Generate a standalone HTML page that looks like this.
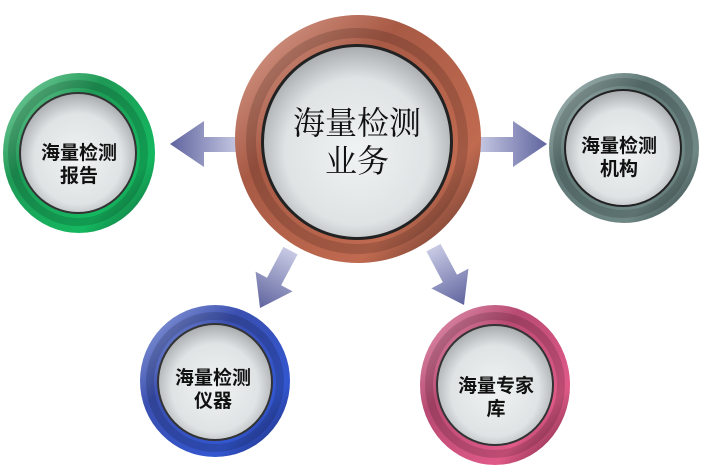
<!DOCTYPE html>
<html><head><meta charset="utf-8"><style>
html,body{margin:0;padding:0;background:#fff;width:702px;height:469px;overflow:hidden}
</style></head><body>
<svg width="702" height="469" viewBox="0 0 702 469" xmlns="http://www.w3.org/2000/svg">
<defs>
<radialGradient id="face" cx="0.5" cy="0.55" r="0.55">
<stop offset="0" stop-color="#f0f3f3"/><stop offset="0.7" stop-color="#dfe3e4"/><stop offset="1" stop-color="#a9adb0"/></radialGradient>
<linearGradient id="gC" x1="0" y1="0" x2="1" y2="1"><stop offset="0" stop-color="#e0a898"/><stop offset="0.35" stop-color="#a85a45"/><stop offset="0.75" stop-color="#c06a50"/><stop offset="1" stop-color="#4a2a22"/></linearGradient>
<linearGradient id="gG" x1="0" y1="0" x2="1" y2="1"><stop offset="0" stop-color="#8ed8ae"/><stop offset="0.35" stop-color="#1e9a56"/><stop offset="0.75" stop-color="#14b860"/><stop offset="1" stop-color="#145a34"/></linearGradient>
<linearGradient id="gS" x1="0" y1="0" x2="1" y2="1"><stop offset="0" stop-color="#b5c7c5"/><stop offset="0.35" stop-color="#5f7876"/><stop offset="0.75" stop-color="#6f8886"/><stop offset="1" stop-color="#2f3d3c"/></linearGradient>
<linearGradient id="gB" x1="0" y1="0" x2="1" y2="1"><stop offset="0" stop-color="#9aaae0"/><stop offset="0.35" stop-color="#3a4fb0"/><stop offset="0.75" stop-color="#3357d0"/><stop offset="1" stop-color="#1a2360"/></linearGradient>
<linearGradient id="gP" x1="0" y1="0" x2="1" y2="1"><stop offset="0" stop-color="#e8a0b8"/><stop offset="0.35" stop-color="#b84a72"/><stop offset="0.75" stop-color="#e05a88"/><stop offset="1" stop-color="#5a1a30"/></linearGradient>
<linearGradient id="ar" x1="0" y1="0" x2="1" y2="0"><stop offset="0" stop-color="#5f649e"/><stop offset="1" stop-color="#c8cae4"/></linearGradient>
</defs>
<polygon points="170,144 204,121 204,137 240,137 240,152 204,152 204,167" fill="url(#ar)"/>
<g transform="translate(547,144) scale(-1,1)"><polygon points="0,0 34,-23 34,-7 70,-7 70,8 34,8 34,23" fill="url(#ar)"/></g>
<g transform="translate(260,308) rotate(-62)"><polygon points="0,0 30,-21 30,-8 65,-8 65,8 30,8 30,21" fill="url(#ar)"/></g>
<g transform="translate(464,305) rotate(-118)"><polygon points="0,0 30,-21 30,-8 65,-8 65,8 30,8 30,21" fill="url(#ar)"/></g>
<g fill="none" stroke="#000" stroke-opacity="0.18">
</g>
<ellipse cx="358" cy="139" rx="123" ry="124" fill="url(#gC)"/>
<ellipse cx="357" cy="141" rx="106" ry="108" fill="none" stroke="#000" stroke-opacity="0.15" stroke-width="10"/>
<ellipse cx="357" cy="142" rx="96" ry="98" fill="#222"/>
<ellipse cx="357" cy="142" rx="93" ry="95" fill="url(#face)"/>
<ellipse cx="79" cy="153" rx="76" ry="80" fill="url(#gG)"/>
<ellipse cx="78" cy="153" rx="66" ry="69" fill="none" stroke="#000" stroke-opacity="0.15" stroke-width="8"/>
<ellipse cx="78" cy="153" rx="59" ry="61" fill="#333"/>
<ellipse cx="78" cy="153" rx="57" ry="59" fill="url(#face)"/>
<ellipse cx="624" cy="148" rx="75" ry="75" fill="url(#gS)"/>
<ellipse cx="623" cy="148" rx="66" ry="66" fill="none" stroke="#000" stroke-opacity="0.15" stroke-width="8"/>
<ellipse cx="623" cy="148" rx="59" ry="59" fill="#222"/>
<ellipse cx="623" cy="148" rx="57" ry="57" fill="url(#face)"/>
<ellipse cx="215" cy="381" rx="75" ry="76" fill="url(#gB)"/>
<ellipse cx="215" cy="382" rx="65" ry="66" fill="none" stroke="#000" stroke-opacity="0.15" stroke-width="8"/>
<ellipse cx="215" cy="382" rx="58" ry="59" fill="#333"/>
<ellipse cx="215" cy="382" rx="56" ry="57" fill="url(#face)"/>
<ellipse cx="495" cy="385" rx="75" ry="80" fill="url(#gP)"/>
<ellipse cx="495" cy="385" rx="66" ry="69" fill="none" stroke="#000" stroke-opacity="0.15" stroke-width="8"/>
<ellipse cx="495" cy="385" rx="59" ry="61" fill="#333"/>
<ellipse cx="495" cy="385" rx="57" ry="59" fill="url(#face)"/>
<g text-anchor="middle" fill="#111">
<g font-family="'Liberation Serif','Noto Serif CJK SC',serif" font-size="32">
<text x="357" y="134">海量检测</text>
<text x="357" y="172">业务</text>
</g>
<g font-family="'Liberation Sans','Noto Sans CJK SC',sans-serif" font-size="19" font-weight="bold">
<text x="79" y="159">海量检测</text><text x="79" y="182">报告</text>
<text x="619" y="152">海量检测</text><text x="619" y="175">机构</text>
<text x="213" y="384">海量检测</text><text x="213" y="407">仪器</text>
<text x="496" y="392">海量专家</text><text x="496" y="415">库</text>
</g></g>
</svg>
</body></html>
